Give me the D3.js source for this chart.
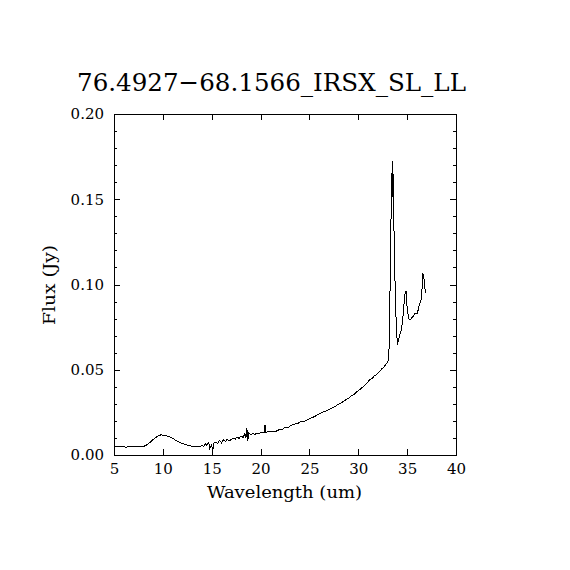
<!DOCTYPE html>
<html>
<head>
<meta charset="utf-8">
<script src="https://cdn.jsdelivr.net/npm/d3@7"></script>
<style>
  body { margin: 0; background: #fff; }
  svg { display: block; }
  .axis path { stroke: #000; shape-rendering: crispEdges; }
  .axis line { stroke: #000; shape-rendering: crispEdges; }
  .axis text { font-family: "DejaVu Serif", serif; font-size: 15px; fill: #000; }
</style>
</head>
<body>
<svg id="chart" width="570" height="570"></svg>
<script>
var title = "76.4927\u221268.1566_IRSX_SL_LL";
var xLabel = "Wavelength (um)";
var yLabel = "Flux (Jy)";

var xTicks = [5, 10, 15, 20, 25, 30, 35, 40];
var yTicks = [0.00, 0.05, 0.10, 0.15, 0.20];
var yMinorTicks = [0.01, 0.02, 0.03, 0.04, 0.06, 0.07, 0.08, 0.09, 0.11, 0.12, 0.13, 0.14, 0.16, 0.17, 0.18, 0.19];

// spectrum (um, Jy)
var wavelength = [
  5.0, 5.2, 5.4, 5.6, 5.8, 6.0, 6.2, 6.4, 6.6, 6.8, 7.0, 7.2, 7.4, 7.6, 7.8, 8.0,
  8.2, 8.4, 8.6, 8.8, 9.0, 9.2, 9.4, 9.6, 9.8, 10.0, 10.2, 10.4, 10.6, 10.8, 11.0,
  11.2, 11.4, 11.6, 11.8, 12.0, 12.2, 12.4, 12.6, 12.8, 13.0, 13.2, 13.4, 13.6, 13.8,
  14.0, 14.2, 14.4, 14.5, 14.7, 14.8, 15.0, 15.1, 15.2, 15.4, 15.6, 15.8, 16.0, 16.2,
  16.4, 16.6, 16.8, 17.0, 17.2, 17.4, 17.6, 17.8, 18.0, 18.2, 18.4, 18.5, 18.6, 18.7,
  18.8, 19.0, 19.2, 19.4, 19.6, 19.8, 20.0, 20.2, 20.4, 20.45, 20.5, 20.7, 21.0, 21.3,
  21.6, 21.8, 22.0, 22.2, 22.4, 22.6, 22.8, 23.0, 23.2, 23.4, 23.6, 23.8, 24.0, 24.2,
  24.4, 24.6, 24.8, 25.0, 25.2, 25.4, 25.6, 25.8, 26.0, 26.2, 26.4, 26.6, 26.8, 27.0,
  27.2, 27.4, 27.6, 27.8, 28.0, 28.2, 28.4, 28.6, 28.8, 29.0, 29.2, 29.4, 29.6, 29.8,
  30.0, 30.2, 30.4, 30.6, 30.8, 31.0, 31.2, 31.4, 31.6, 31.8, 32.0, 32.2, 32.4, 32.6,
  32.8, 33.0, 33.1, 33.18, 33.28, 33.38, 33.49, 33.52, 33.59, 33.62, 33.72, 33.86,
  34.0, 34.2, 34.44, 34.54, 34.71, 34.81, 34.91, 34.99, 35.16, 35.29, 35.57, 35.8,
  36.04, 36.25, 36.42, 36.52, 36.59, 36.7, 36.8, 36.9
];
var flux = [
  0.0050, 0.0048, 0.0047, 0.0048, 0.0047, 0.0048, 0.0046, 0.0048, 0.0047, 0.0049, 0.0048, 0.0050, 0.0048, 0.0049, 0.0048, 0.0051,
  0.0054, 0.0062, 0.0070, 0.0080, 0.0090, 0.0100, 0.0108, 0.0113, 0.0118, 0.0117, 0.0112, 0.0113, 0.0108, 0.0104, 0.0098,
  0.0091, 0.0083, 0.0077, 0.0071, 0.0067, 0.0064, 0.0060, 0.0056, 0.0055, 0.0051, 0.0052, 0.0049, 0.0051, 0.0050,
  0.0055, 0.0052, 0.0068, 0.0058, 0.0072, 0.0040, 0.0062, 0.0020, 0.0070, 0.0075, 0.0068, 0.0085, 0.0072, 0.0088,
  0.0080, 0.0092, 0.0084, 0.0090, 0.0098, 0.0093, 0.0105, 0.0098, 0.0112, 0.0103, 0.0125, 0.0100, 0.0158, 0.0085,
  0.0130, 0.0118, 0.0126, 0.0120, 0.0128, 0.0124, 0.0132, 0.0130, 0.0135, 0.0178, 0.0132, 0.0135, 0.0136, 0.0138,
  0.0140, 0.0146, 0.0150, 0.0147, 0.0158, 0.0162, 0.0160, 0.0170, 0.0175, 0.0178, 0.0186, 0.0184, 0.0192, 0.0196,
  0.0195, 0.0202, 0.0206, 0.0212, 0.0217, 0.0222, 0.0228, 0.0235, 0.0240, 0.0246, 0.0252, 0.0256, 0.0262, 0.0266,
  0.0272, 0.0280, 0.0283, 0.0292, 0.0298, 0.0303, 0.0312, 0.0318, 0.0327, 0.0332, 0.0343, 0.0350, 0.0356, 0.0368,
  0.0378, 0.0385, 0.0396, 0.0404, 0.0418, 0.0430, 0.0442, 0.0448, 0.0462, 0.0470, 0.0478, 0.0492, 0.0505, 0.0512,
  0.0532, 0.0545, 0.0557, 0.0674, 0.110, 0.1515, 0.1726, 0.1515, 0.165, 0.1437, 0.110, 0.0811,
  0.0645, 0.0694, 0.0743, 0.0792, 0.0909, 0.0958, 0.0958, 0.087, 0.080, 0.0792, 0.081, 0.083,
  0.083, 0.088, 0.0909, 0.0968, 0.1066, 0.1046, 0.0987, 0.0948
];

var svg = d3.select("#chart");
var margin = {top: 114, right: 114, left: 114, bottom: 115};
var width = 570 - margin.left - margin.right,
    height = 570 - margin.top - margin.bottom;

var x = d3.scaleLinear().domain([5, 40]).range([0, width]);
var y = d3.scaleLinear().domain([0, 0.2]).range([height, 0]);

var g = svg.append("g").attr("transform", "translate(" + margin.left + "," + margin.top + ")");

// minor y ticks (inward, both sides)
g.append("g").attr("class", "axis")
  .call(d3.axisLeft(y).tickValues(yMinorTicks).tickSize(-3).tickFormat(""))
  .select(".domain").remove();
g.append("g").attr("class", "axis")
  .attr("transform", "translate(" + width + ",0)")
  .call(d3.axisRight(y).tickValues(yMinorTicks).tickSize(-3).tickFormat(""))
  .select(".domain").remove();

// major axes, ticks pointing into the plot
g.append("g").attr("class", "axis")
  .attr("transform", "translate(0," + height + ")")
  .call(d3.axisBottom(x).tickValues(xTicks).tickSizeInner(-6).tickSizeOuter(0).tickPadding(8).tickFormat(d3.format("d")));
g.append("g").attr("class", "axis")
  .call(d3.axisTop(x).tickValues(xTicks).tickSizeInner(-6).tickSizeOuter(0).tickFormat(""));
g.append("g").attr("class", "axis")
  .call(d3.axisLeft(y).tickValues(yTicks).tickSizeInner(-6).tickSizeOuter(0).tickPadding(10).tickFormat(d3.format(".2f")));
g.append("g").attr("class", "axis")
  .attr("transform", "translate(" + width + ",0)")
  .call(d3.axisRight(y).tickValues(yTicks).tickSizeInner(-6).tickSizeOuter(0).tickFormat(""));

// spectrum
var line = d3.line()
  .x(function(d, i) { return x(wavelength[i]); })
  .y(function(d) { return y(d); });

g.append("path")
  .datum(flux)
  .attr("fill", "none")
  .attr("stroke", "#000")
  .attr("stroke-width", 1)
  .style("shape-rendering", "crispEdges")
  .attr("d", line);

// title and axis labels
svg.append("text")
  .attr("x", 271.5).attr("y", 91)
  .attr("text-anchor", "middle")
  .attr("textLength", 389).attr("lengthAdjust", "spacingAndGlyphs")
  .style("font-family", "DejaVu Serif, serif").style("font-size", "25px")
  .text(title);

svg.append("text")
  .attr("x", 284.5).attr("y", 498)
  .attr("text-anchor", "middle")
  .attr("textLength", 155).attr("lengthAdjust", "spacingAndGlyphs")
  .style("font-family", "DejaVu Serif, serif").style("font-size", "16px")
  .text(xLabel);

svg.append("text")
  .attr("transform", "translate(55,285) rotate(-90)")
  .attr("text-anchor", "middle")
  .attr("textLength", 80).attr("lengthAdjust", "spacingAndGlyphs")
  .style("font-family", "DejaVu Serif, serif").style("font-size", "16px")
  .text(yLabel);
</script>
</body>
</html>
